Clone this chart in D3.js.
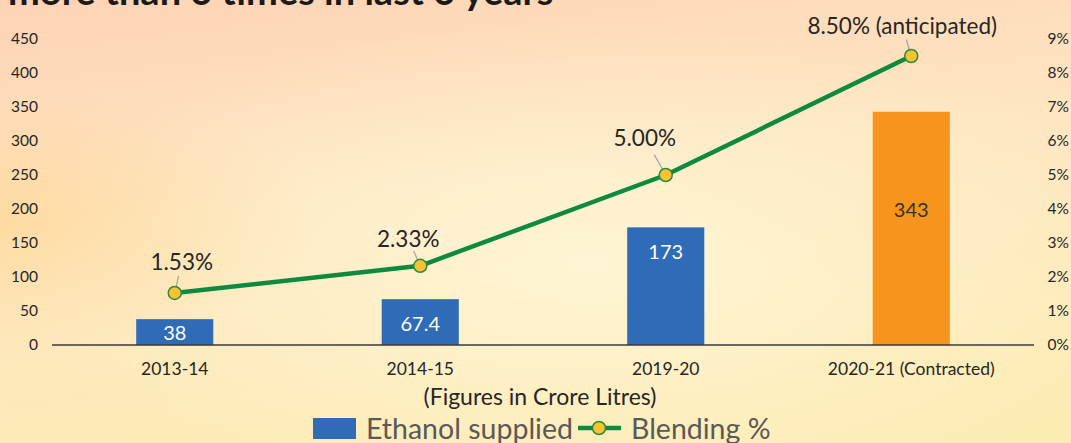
<!DOCTYPE html>
<html><head><meta charset="utf-8">
<script src="https://cdn.jsdelivr.net/npm/d3@7"></script>
<style>html,body{margin:0;padding:0;overflow:hidden;}svg{display:block;}</style>
</head><body>
<script>
const categories = ["2013-14", "2014-15", "2019-20", "2020-21 (Contracted)"];
const ethanol = [38, 67.4, 173, 343];
const ethanolLabels = ["38", "67.4", "173", "343"];
const blending = [1.53, 2.33, 5.00, 8.50];
const blendingLabels = ["1.53%", "2.33%", "5.00%", "8.50% (anticipated)"];
const leftTicks = [0, 50, 100, 150, 200, 250, 300, 350, 400, 450];
const rightTicks = [0, 1, 2, 3, 4, 5, 6, 7, 8, 9];
const barColors = ["#2F6BB6", "#2F6BB6", "#2F6BB6", "#F7941E"];

const W = 1071, H = 443;
const font = "Lato, 'Open Sans', sans-serif";
const svg = d3.select("body").append("svg").attr("width", W).attr("height", H);
const defs = svg.append("defs");

// background
const lg = defs.append("linearGradient").attr("id","bg").attr("x1","0").attr("y1","0").attr("x2","0.3").attr("y2","1");
lg.append("stop").attr("offset","0").attr("stop-color","#FDD3B6");
lg.append("stop").attr("offset","0.5").attr("stop-color","#FEE6C2");
lg.append("stop").attr("offset","1").attr("stop-color","#FDEBB4");
svg.append("rect").attr("width",W).attr("height",H).attr("fill","url(#bg)");
const rg = defs.append("radialGradient").attr("id","glow").attr("cx","0.55").attr("cy","0.6").attr("r","0.55");
rg.append("stop").attr("offset","0").attr("stop-color","#FFF6D6").attr("stop-opacity",0.9);
rg.append("stop").attr("offset","1").attr("stop-color","#FFF6D6").attr("stop-opacity",0);
svg.append("rect").attr("width",W).attr("height",H).attr("fill","url(#glow)");
const rg2 = defs.append("radialGradient").attr("id","glow2").attr("cx","0.0").attr("cy","0.5").attr("r","0.3");
rg2.append("stop").attr("offset","0").attr("stop-color","#FDD58E").attr("stop-opacity",0.6);
rg2.append("stop").attr("offset","1").attr("stop-color","#FDD58E").attr("stop-opacity",0);
svg.append("rect").attr("width",W).attr("height",H).attr("fill","url(#glow2)");

// title (clipped at top)
svg.append("text").attr("x", 8).attr("y", 5).attr("font-family", font).attr("font-weight", "bold")
  .attr("font-size", 38).attr("fill", "#1a1a1a").text("more than 6 times in last 6 years");

const x = d3.scaleBand().domain(categories).range([52, 1034]).paddingInner(0).paddingOuter(0);
const yL = d3.scaleLinear().domain([0, 450]).range([345, 39]);
const yR = d3.scaleLinear().domain([0, 9]).range([345, 39]);
const bw = x.step() * 0.314;
const cx = c => x(c) + x.bandwidth() / 2;

// left axis labels
svg.append("g").selectAll("text").data(leftTicks).join("text")
  .attr("x", 38).attr("y", d => yL(d)).attr("dy", "0.35em").attr("text-anchor", "end")
  .attr("font-family", font).attr("font-size", 15.5).attr("fill", "#262626").text(d => d);
// right axis labels
svg.append("g").selectAll("text").data(rightTicks).join("text")
  .attr("x", 1069).attr("y", d => yR(d)).attr("dy", "0.35em").attr("text-anchor", "end")
  .attr("font-family", font).attr("font-size", 15.5).attr("fill", "#262626").text(d => d + "%");

// bars
svg.append("g").selectAll("rect").data(ethanol).join("rect")
  .attr("x", (d, i) => cx(categories[i]) - bw / 2).attr("width", bw)
  .attr("y", d => yL(d)).attr("height", d => yL(0) - yL(d))
  .attr("fill", (d, i) => barColors[i]);

// bar labels
const labelDy = [14, 25, 25, 98];
svg.append("g").selectAll("text").data(ethanol).join("text")
  .attr("x", (d, i) => cx(categories[i])).attr("y", (d, i) => Math.min(yL(d) + labelDy[i], (yL(d) + yL(0)) / 2 + 2))
  .attr("dy", "0.35em").attr("text-anchor", "middle")
  .attr("font-family", font).attr("font-size", 20).attr("fill", (d, i) => i === 3 ? "#333" : "#fff")
  .text((d, i) => ethanolLabels[i]);

// axis line
svg.append("line").attr("x1", 52).attr("x2", 1034).attr("y1", yL(0)).attr("y2", yL(0))
  .attr("stroke", "#3a3a3a").attr("stroke-width", 1.5);

// x labels
svg.append("g").selectAll("text").data(categories).join("text")
  .attr("x", d => cx(d)).attr("y", 369).attr("dy", "0.35em").attr("text-anchor", "middle")
  .attr("font-family", font).attr("font-size", 17.5).attr("fill", "#262626").text(d => d);

svg.append("text").attr("x", 540).attr("y", 397).attr("dy", "0.35em").attr("text-anchor", "middle")
  .attr("font-family", font).attr("font-size", 23).attr("fill", "#262626").text("(Figures in Crore Litres)");

// line
const line = d3.line().x((d, i) => cx(categories[i])).y(d => yR(d));
svg.append("path").datum(blending).attr("d", line).attr("fill", "none")
  .attr("stroke", "#0E8A3E").attr("stroke-width", 4.5).attr("stroke-linejoin", "round");

// leader lines + labels
const lblOff = [[7, -31], [-12, -27], [-21, -37], [-9, -30]];
svg.append("g").selectAll("line").data(blending).join("line")
  .attr("x1", (d, i) => cx(categories[i]) + lblOff[i][0] * 0.55).attr("y1", (d, i) => yR(d) + lblOff[i][1] * 0.55)
  .attr("x2", (d, i) => cx(categories[i])).attr("y2", (d, i) => yR(d))
  .attr("stroke", "#A6A6A6").attr("stroke-width", 1.3);

svg.append("g").selectAll("circle").data(blending).join("circle")
  .attr("cx", (d, i) => cx(categories[i])).attr("cy", d => yR(d)).attr("r", 6.5)
  .attr("fill", "#F9C134").attr("stroke", "#2E8B3A").attr("stroke-width", 1.5);

svg.append("g").selectAll("text").data(blending).join("text")
  .attr("x", (d, i) => cx(categories[i]) + lblOff[i][0]).attr("y", (d, i) => yR(d) + lblOff[i][1])
  .attr("dy", "0.35em").attr("text-anchor", "middle")
  .attr("font-family", font).attr("font-size", 22.5).attr("fill", "#262626").text((d, i) => blendingLabels[i]);

// legend
const leg = svg.append("g");
leg.append("rect").attr("x", 313).attr("y", 418).attr("width", 43).attr("height", 21).attr("fill", "#2F6BB6");
leg.append("text").attr("x", 366).attr("y", 439).attr("font-family", font).attr("font-size", 28.5)
  .attr("fill", "#595959").text("Ethanol supplied");
leg.append("line").attr("x1", 578).attr("x2", 621).attr("y1", 428).attr("y2", 428)
  .attr("stroke", "#0E8A3E").attr("stroke-width", 4.5);
leg.append("circle").attr("cx", 599).attr("cy", 428).attr("r", 6.5)
  .attr("fill", "#F9C134").attr("stroke", "#2E8B3A").attr("stroke-width", 1.5);
leg.append("text").attr("x", 631).attr("y", 439).attr("font-family", font).attr("font-size", 28.5)
  .attr("fill", "#595959").text("Blending %");
</script>
</body></html>
